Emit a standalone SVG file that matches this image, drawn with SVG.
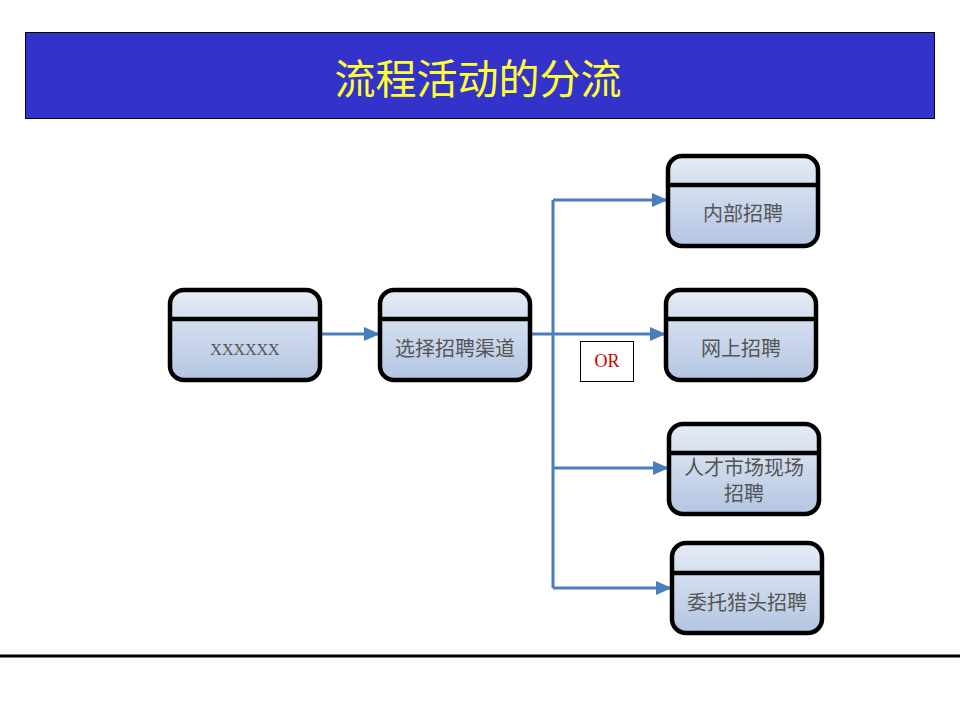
<svg xmlns="http://www.w3.org/2000/svg" width="960" height="720" viewBox="0 0 960 720">
  <defs>
    <linearGradient id="nodeFill" x1="0" y1="0" x2="0" y2="1">
      <stop offset="0" stop-color="#e6ecf5"/>
      <stop offset="0.35" stop-color="#d4deef"/>
      <stop offset="1" stop-color="#b4c5e2"/>
    </linearGradient>
    <marker id="arrow" viewBox="0 0 16 14" refX="15" refY="7" markerWidth="16" markerHeight="14" markerUnits="userSpaceOnUse" orient="auto">
      <path d="M0,0 L16,7 L0,14 Z" fill="#4a7ebb"/>
    </marker>
  </defs>
  <style>
    .box { fill: url(#nodeFill); stroke: #000; stroke-width: 4.5; }
    .div { stroke: #000; stroke-width: 4.5; }
    .lbl { font-family: "Liberation Serif", "Noto Sans CJK SC", serif; font-size: 20px; fill: #555; text-anchor: middle; }
    .conn { fill: none; stroke: #4a7ebb; stroke-width: 3; }
  </style>
  <rect width="960" height="720" fill="#fff"/>
  <g id="title">
    <rect x="25.5" y="32.5" width="909" height="86" fill="#3333cc" stroke="#000" stroke-width="1"/>
    <text x="478" y="94" font-family="Noto Sans CJK SC, sans-serif" font-size="41" fill="#ffff33" text-anchor="middle">流程活动的分流</text>
  </g>
  <g id="connectors">
    <path class="conn" d="M320,334 H379" marker-end="url(#arrow)"/>
    <path class="conn" d="M530,334 H665" marker-end="url(#arrow)"/>
    <path class="conn" d="M553,200 V588"/>
    <path class="conn" d="M553,200 H667" marker-end="url(#arrow)"/>
    <path class="conn" d="M553,468 H668" marker-end="url(#arrow)"/>
    <path class="conn" d="M553,588 H671" marker-end="url(#arrow)"/>
  </g>
  <g id="or-label">
    <rect x="580.5" y="341.5" width="53" height="40" fill="#fff" stroke="#000" stroke-width="1"/>
    <text x="607" y="367" font-family="Liberation Serif, serif" font-size="18" fill="#cc0000" text-anchor="middle">OR</text>
  </g>
  <g id="node-xxxxxx">
    <rect class="box" x="170" y="290" width="150" height="90" rx="14"/>
    <line class="div" x1="170" y1="319" x2="320" y2="319"/>
    <text class="lbl" x="245" y="355" style="font-size:16px">XXXXXX</text>
  </g>
  <g id="node-select">
    <rect class="box" x="380" y="290" width="150" height="90" rx="14"/>
    <line class="div" x1="380" y1="319" x2="530" y2="319"/>
    <text class="lbl" x="455" y="356">选择招聘渠道</text>
  </g>
  <g id="node-internal">
    <rect class="box" x="668" y="156" width="150" height="90" rx="14"/>
    <line class="div" x1="668" y1="185" x2="818" y2="185"/>
    <text class="lbl" x="743" y="221">内部招聘</text>
  </g>
  <g id="node-online">
    <rect class="box" x="666" y="290" width="150" height="90" rx="14"/>
    <line class="div" x1="666" y1="319" x2="816" y2="319"/>
    <text class="lbl" x="741" y="356">网上招聘</text>
  </g>
  <g id="node-market">
    <rect class="box" x="669" y="424" width="150" height="90" rx="14"/>
    <line class="div" x1="669" y1="453" x2="819" y2="453"/>
    <text class="lbl" x="744" y="475">人才市场现场</text>
    <text class="lbl" x="744" y="501">招聘</text>
  </g>
  <g id="node-headhunter">
    <rect class="box" x="672" y="543" width="150" height="90" rx="14"/>
    <line class="div" x1="672" y1="573" x2="822" y2="573"/>
    <text class="lbl" x="747" y="610">委托猎头招聘</text>
  </g>
  <line x1="0" y1="656" x2="960" y2="656" stroke="#000" stroke-width="3"/>
</svg>
